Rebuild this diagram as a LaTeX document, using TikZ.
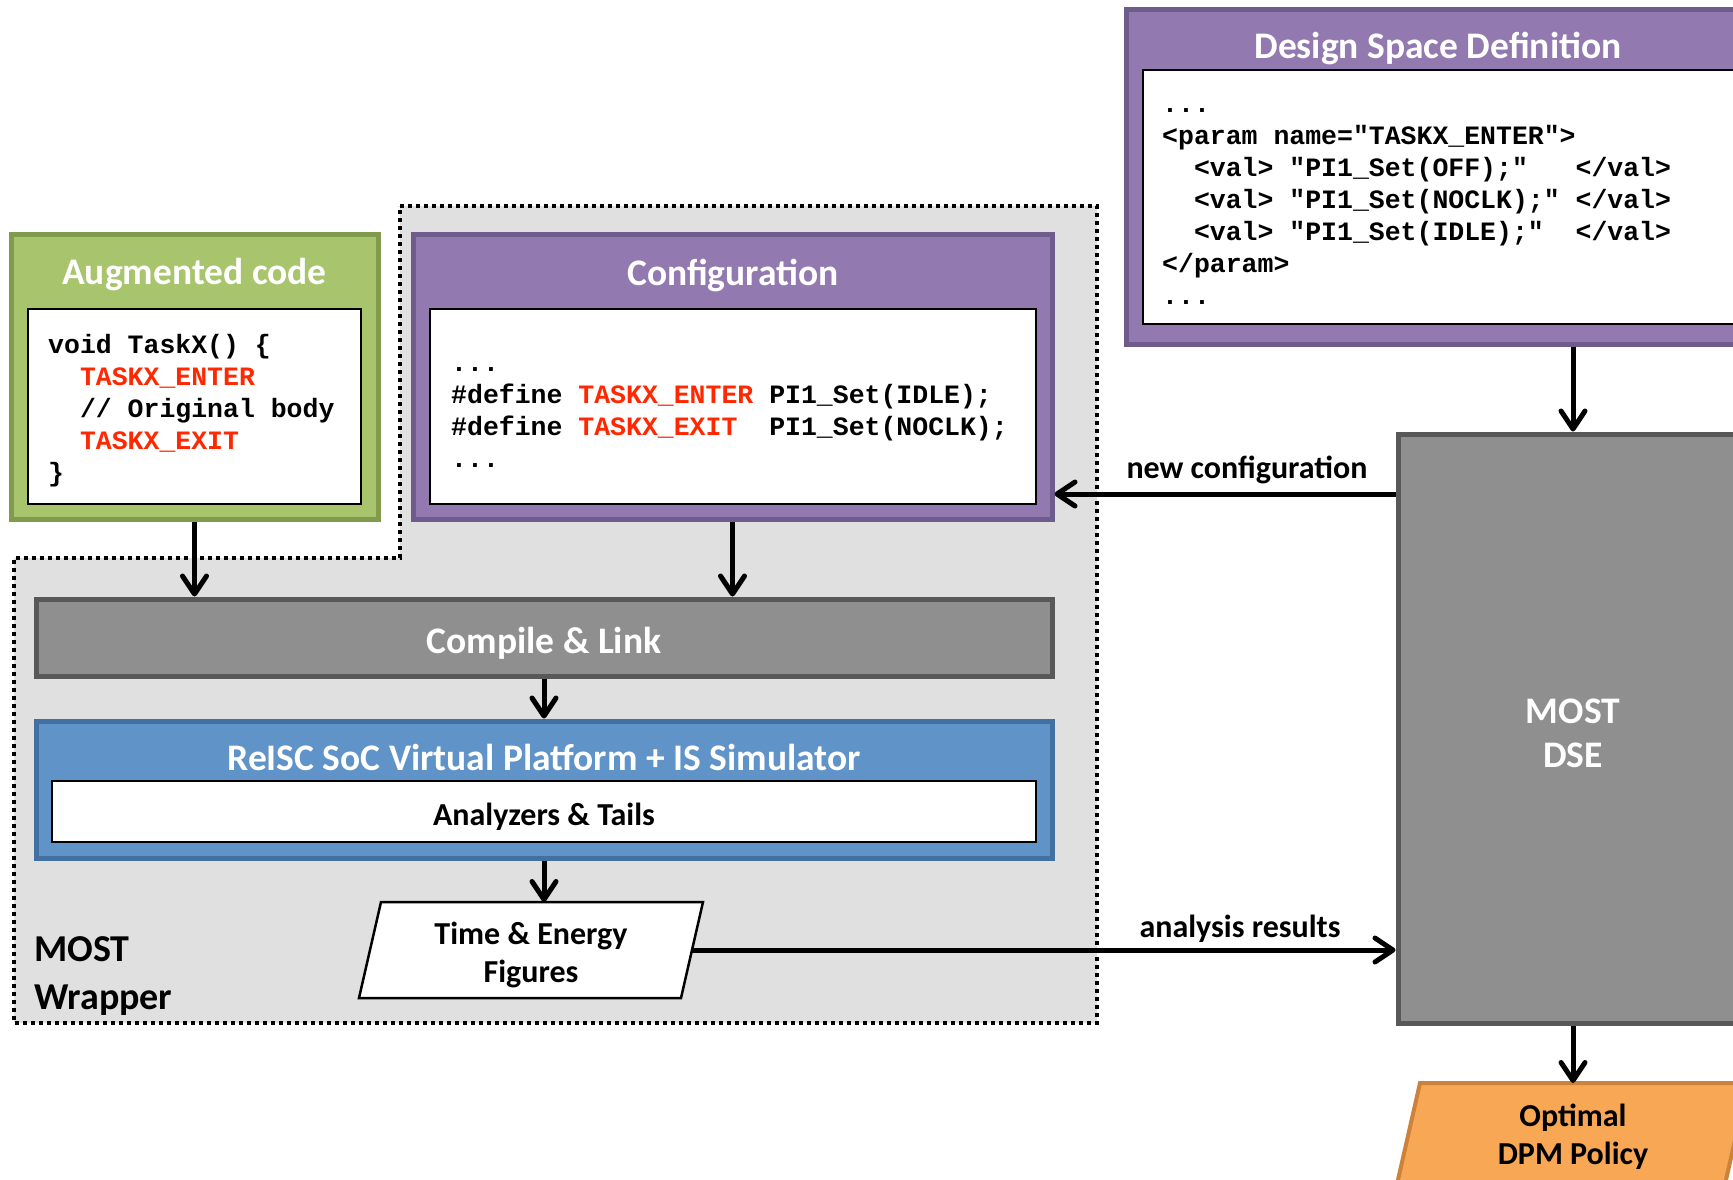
\documentclass[tikz,border=0pt]{standalone}
\usepackage{fontspec}
\setmainfont{Carlito}
\newfontfamily\codefont{Liberation Mono}
\usetikzlibrary{arrows.meta}
\definecolor{greenfill}{RGB}{168,196,108}
\definecolor{greenborder}{RGB}{128,154,78}
\definecolor{purplefill}{RGB}{146,122,176}
\definecolor{purpleborder}{RGB}{110,92,140}
\definecolor{grayfill}{RGB}{143,143,143}
\definecolor{grayborder}{RGB}{88,88,88}
\definecolor{bluefill}{RGB}{96,148,200}
\definecolor{blueborder}{RGB}{66,112,160}
\definecolor{orangefill}{RGB}{248,168,84}
\definecolor{orangeborder}{RGB}{205,130,60}
\definecolor{wrapfill}{RGB}{224,224,224}
\definecolor{codered}{RGB}{255,40,0}
\newcommand\sq{\hphantom{0}}
\newcommand\rd[1]{\textcolor{codered}{#1}}
\tikzset{
  box/.style={rectangle, inner sep=0pt, line width=5pt},
  whitebox/.style={rectangle, inner sep=0pt, line width=2.5pt, draw=black, fill=white},
  titletext/.style={font=\fontsize{37.5}{44}\selectfont\bfseries, text=white, inner sep=0pt},
  codetext/.style={font=\codefont\fontsize{26.5}{32}\selectfont\bfseries, align=left, inner sep=0pt, anchor=west},
  lbltext/.style={font=\fontsize{32}{38}\selectfont\bfseries, inner sep=0pt},
  arr/.style={line width=5pt, -{Straight Barb[length=18pt,width=24pt,round]}},
  wrapper/.style={fill=wrapfill, draw=black, line width=4pt, dash pattern=on 4pt off 4pt},
  frame/.style={rectangle, inner sep=0pt, outer sep=0pt}
}
\begin{document}
\begin{tikzpicture}[x=1pt,y=-1pt]
\clip (0,0) rectangle (1733,1179);
\fill[white] (0,0) rectangle (1733,1179);

% MOST wrapper region
\draw[wrapper] (400,206) -- (1097,206) -- (1097,1023) -- (14,1023) -- (14,558) -- (400,558) -- cycle;
\node[lbltext, font=\fontsize{38}{47.5}\selectfont\bfseries, align=left, anchor=west] (wraplbl) at (34,976) {MOST\\Wrapper};

% Augmented code
\node[box, fill=greenfill, draw=greenborder, minimum width=367, minimum height=285] (aug) at (194.5,376.5) {};
\node[titletext] (augt) at (194.5,275) {Augmented code};
\node[whitebox, minimum width=333, minimum height=195] (augin) at (194.5,406.5) {};
\node[codetext] (augcode) at (48,411) {void\sq TaskX()\sq\{\\
\sq\sq\rd{TASKX\_ENTER}\\
\sq\sq//\sq Original\sq body\\
\sq\sq\rd{TASKX\_EXIT}\\
\}};

% Configuration
\node[box, fill=purplefill, draw=purpleborder, minimum width=639, minimum height=285] (config) at (732.5,376.5) {};
\node[titletext] (configt) at (733,275) {Configuration};
\node[whitebox, minimum width=606, minimum height=195] (configin) at (733,406.5) {};
\node[codetext] (configcode) at (451,418) {...\\
\#define\sq\rd{TASKX\_ENTER}\sq PI1\_Set(IDLE);\\
\#define\sq\rd{TASKX\_EXIT}\sq\sq PI1\_Set(NOCLK);\\
...};

% Compile & Link
\node[box, fill=grayfill, draw=grayborder, minimum width=1016, minimum height=77] (compile) at (544,637.5) {};
\node[titletext] (compilet) at (544,643) {Compile \& Link};

% ReISC platform
\node[box, fill=bluefill, draw=blueborder, minimum width=1016, minimum height=137] (reisc) at (544,789.5) {};
\node[titletext] (reisct) at (544,757) {ReISC SoC Virtual Platform + IS Simulator};
\node[whitebox, minimum width=984, minimum height=61] (ana) at (544,811.5) {};
\node[lbltext] (anat) at (544,817) {Analyzers \& Tails};

% Time & Energy figures (parallelogram)
\node[frame, minimum width=322, minimum height=96] (time) at (531,950) {};
\filldraw[draw=black, fill=white, line width=2.5pt, line join=miter]
  ([xshift=11pt]time.north west) -- ([xshift=11pt]time.north east) --
  ([xshift=-11pt]time.south east) -- ([xshift=-11pt]time.south west) -- cycle;
\node[lbltext, align=center, font=\fontsize{32}{37.5}\selectfont\bfseries] (timet) at (531,955) {Time \& Energy\\Figures};

% Design Space Definition
\node[box, fill=purplefill, draw=purpleborder, minimum width=626, minimum height=335] (dsd) at (1439,176.5) {};
\node[titletext] (dsdt) at (1438,48) {Design Space Definition};
\node[whitebox, minimum width=592, minimum height=254] (dsdin) at (1439,197) {};
\node[codetext] (dsdcode) at (1162,207) {...\\
<param\sq name="TASKX\_ENTER">\\
\sq\sq<val>\sq"PI1\_Set(OFF);"\sq\sq\sq</val>\\
\sq\sq<val>\sq"PI1\_Set(NOCLK);"\sq</val>\\
\sq\sq<val>\sq"PI1\_Set(IDLE);"\sq\sq</val>\\
</param>\\
...};

% MOST DSE
\node[box, fill=grayfill, draw=grayborder, minimum width=350, minimum height=589] (dse) at (1573,728.5) {};
\node[titletext, align=center, font=\fontsize{37.5}{44}\selectfont\bfseries] (dset) at (1573,733.5) {MOST\\DSE};

% Optimal DPM Policy (parallelogram)
\node[frame, minimum width=328, minimum height=110] (opt) at (1571.5,1138) {};
\filldraw[draw=orangeborder, fill=orangefill, line width=4pt, line join=miter]
  ([xshift=12.5pt]opt.north west) -- ([xshift=12.5pt]opt.north east) --
  ([xshift=-12.5pt]opt.south east) -- ([xshift=-12.5pt]opt.south west) -- cycle;
\node[lbltext, align=center, font=\fontsize{32}{38}\selectfont\bfseries] (optt) at (1573,1137) {Optimal\\DPM Policy};

% connectors
\draw[arr] (aug.south) -- (aug.south |- compile.north);
\draw[arr] (config.south) -- (config.south |- compile.north);
\draw[arr] (compile.south) -- (reisc.north);
\draw[arr] (reisc.south) -- (reisc.south |- time.north);
\draw[arr] (dse.north |- dsd.south) -- (dse.north);
\draw[arr] (dse.south) -- (dse.south |- opt.north);
\coordinate (ncy) at (0,494);
\draw[arr] (dse.west |- ncy) -- (config.east |- ncy);
\draw[arr] (time.east) -- (dse.west |- time.east);

\node[lbltext] (nclbl) at (1247,470) {new configuration};
\node[lbltext] (arlbl) at (1240,929) {analysis results};
\end{tikzpicture}
\end{document}
